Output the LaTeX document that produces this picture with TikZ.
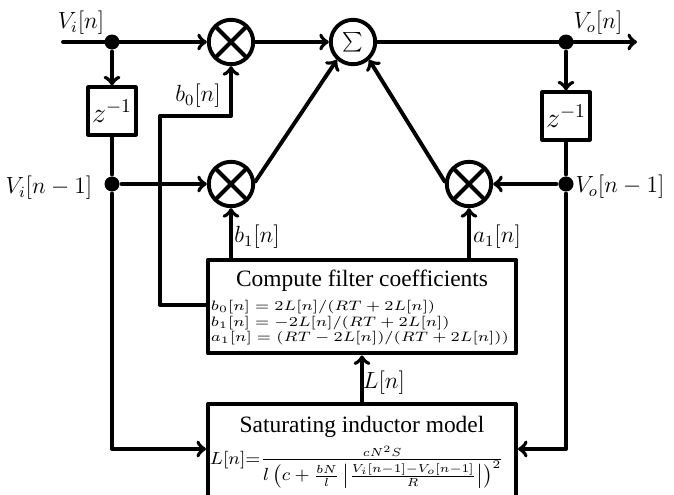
\documentclass[tikz,border=0pt,12pt]{standalone}
\usepackage{graphicx}
\usepackage{fontspec}
\setmainfont{Liberation Serif}
\begin{document}
\begin{tikzpicture}[line cap=round,line join=round,>=to,x=0.018cm,y=-0.018cm,line width=2pt,
	dot/.style={circle,fill=black,inner sep=0pt,minimum size=0.27cm},
	mult/.style={circle,draw,inner sep=0pt,minimum size=0.8cm,
		path picture={\draw (path picture bounding box.north west) -- (path picture bounding box.south east)
			(path picture bounding box.south west) -- (path picture bounding box.north east);}},
	delay/.style={rectangle,draw,minimum size=0.85cm,inner sep=0pt,font=\large},
	block/.style={rectangle,draw,minimum width=5.55cm,inner sep=0pt}]
				\clip (0,0) rectangle (674,495);
				% signal path
				\node[dot] (vi) at (112,42) {};
				\node[dot] (vi1) at (112,184) {};
				\node[dot] (vo) at (566,42) {};
				\node[dot] (vo1) at (566,184) {};
				\node[mult] (m0) at (231,42) {};
				\node[mult] (m1) at (231,184) {};
				\node[mult] (m2) at (469,184) {};
				\node[circle,draw,inner sep=0pt,minimum size=0.8cm] (sum) at (353,42) {\large$\sum$};
				\node[delay] (d0) at (112,111) {$z^{-1}$};
				\node[delay] (d1) at (566,116) {$z^{-1}$};
				\node[block,minimum height=1.69cm] (comp) at (362,306.5) {};
				\node[block,minimum height=1.9cm] (sat) at (362,457) {};
				\coordinate (in) at (63,42);
				\coordinate (out) at (637,42);
				\coordinate (b0s) at (206,305);
				\coordinate (b0a) at (160,305);
				\coordinate (b0b) at (160,116);
				\coordinate (sl) at (206,449);
				\coordinate (sr) at (518,449);
				\draw [->] (in) -- (m0.west);
				\draw [->] (vi) -- (d0.north);
				\draw (d0.south) -- (vi1);
				\draw [->] (vi1) -- (m1.west);
				\draw [->] (vi1) |- (sl);
				\draw [->] (m0) -- (sum);
				\draw [->] (sum) -- (out);
				\draw [->] (vo) -- (d1.north);
				\draw (d1.south) -- (vo1);
				\draw [->] (vo1) -- (m2.east);
				\draw [->] (vo1) |- (sr);
				\draw [->] (m1.5) -- (sum.228);
				\draw [->] (m2.175) -- (sum.312);
				% coefficients
				\draw [->] (b0s) -- (b0a) -- (b0b) -| (m0.south);
				\draw [->] (m1.south |- comp.north) -- (m1.south);
				\draw [->] (m2.south |- comp.north) -- (m2.south);
				\draw [->] (sat) -- (comp);
				% labels
				\node (lvi) at (81,23) {$V_i[n]$};
				\node (lvo) at (598,23) {$V_o[n]$};
				\node (lvi1) at (49,188) {$V_i[n-1]$};
				\node (lvo1) at (620,187) {$V_o[n-1]$};
				\node (lb0) at (198,96) {$b_0[n]$};
				\node (lb1) at (257,237) {$b_1[n]$};
				\node (la1) at (497,237) {$a_1[n]$};
				\node (lL) at (384,383) {$L[n]$};
				\node (tcomp) at (362,281) {Compute filter coefficients};
				\node[anchor=west,inner sep=0pt,font=\fontsize{6.9}{8}\selectfont] (eqs) at (209,323)
					{\scalebox{1.18}[1]{$\begin{array}{@{}l@{}}
					 b_0[n] = 2L[n]/(RT+2L[n])\\
					 b_1[n] = -2L[n]/(RT+2L[n])\\
					 a_1[n] = (RT-2L[n])/(RT+2L[n]))
					 \end{array}$}};
				\node (tsat) at (362,427) {Saturating inductor model};
				\node[anchor=west,inner sep=0pt,font=\fontsize{9}{10}\selectfont] (eqL) at (208,467)
					{\scalebox{1.07}[1]{$L[n]{=}\frac{cN^2S}{\textstyle l\left(c+\frac{bN}{l}\left|\frac{V_i[n-1]-V_o[n-1]}{R}\right|\right)^2}$}};
			\end{tikzpicture}
\end{document}
